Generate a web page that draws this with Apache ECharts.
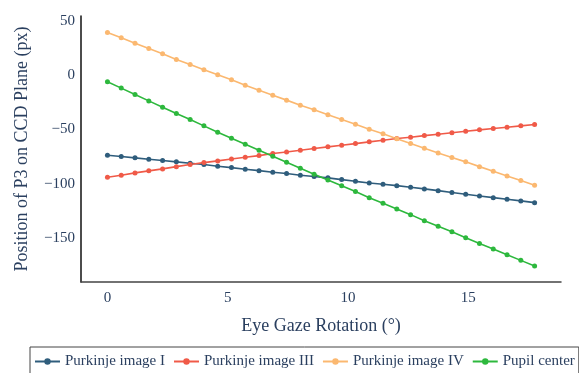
<!DOCTYPE html>
<html>
<head>
<meta charset="utf-8">
<script src="https://cdn.jsdelivr.net/npm/echarts@6/dist/echarts.min.js"></script>
<style>
  html, body { margin: 0; padding: 0; background: #fff; }
  #chart { width: 579px; height: 373px; }
</style>
</head>
<body>
<div id="chart"></div>
<script>
// gaze angle in degrees (0.01 rad steps)
const angles = [0, 0.573, 1.146, 1.719, 2.292, 2.865, 3.438, 4.011, 4.584, 5.157, 5.730,
  6.303, 6.875, 7.448, 8.021, 8.594, 9.167, 9.740, 10.313, 10.886, 11.459, 12.032,
  12.605, 13.178, 13.751, 14.324, 14.897, 15.470, 16.043, 16.616, 17.189, 17.762];

const purkinjeI = [-73.8, -75.0, -76.2, -77.5, -78.7, -79.9, -81.2, -82.4, -84.0, -85.2,
  -86.7, -88.0, -89.5, -90.7, -92.3, -93.5, -94.7, -96.3, -97.9, -99.4, -100.6, -101.9,
  -103.4, -104.9, -106.5, -108.2, -109.9, -111.4, -113.0, -114.5, -116.0, -117.6];

const purkinjeIII = [-94.1, -92.3, -90.1, -88.2, -86.4, -84.3, -82.4, -80.6, -79.0, -77.2,
  -75.6, -74.1, -72.2, -70.7, -69.1, -67.6, -66.0, -64.5, -63.0, -61.4, -59.9, -58.3,
  -57.1, -55.6, -54.3, -53.0, -51.6, -50.3, -49.1, -47.9, -46.6, -45.4];

const purkinjeIV = [39.8, 34.9, 29.9, 25.0, 20.1, 14.8, 10.2, 5.3, 0.6, -4.0,
  -9.0, -13.6, -18.2, -22.8, -27.5, -31.8, -36.4, -40.7, -45.1, -49.7, -54.0, -58.6,
  -63.0, -67.3, -71.6, -75.8, -79.9, -84.3, -88.6, -92.9, -97.2, -101.6];

const pupilCenter = [-5.9, -11.7, -17.6, -23.5, -29.3, -35.2, -40.7, -46.6, -52.5, -58.0,
  -63.6, -69.2, -74.7, -80.2, -85.8, -91.4, -96.6, -101.9, -107.4, -113.0, -118.2, -123.5,
  -128.7, -134.3, -139.5, -144.6, -150.0, -155.3, -160.5, -165.7, -171.0, -176.2];

const xTicks = [0, 5, 10, 15];
const yTicks = [-150, -100, -50, 0, 50];

const seriesNames = ['Purkinje image I', 'Purkinje image III', 'Purkinje image IV', 'Pupil center'];
const seriesValues = [purkinjeI, purkinjeIII, purkinjeIV, pupilCenter];
const colors = ['#2f5d7c', '#f05a48', '#fbb870', '#2db83d'];

const font = '"Liberation Serif", "DejaVu Serif", serif';
const textColor = '#2a3f5f';

const chart = echarts.init(document.getElementById('chart'));

const option = {
  animation: false,
  textStyle: { fontFamily: font },
  grid: { left: 81, right: 18, top: 16, bottom: 91 },
  legend: {
    data: seriesNames,
    left: 30,
    top: 347,
    padding: [7, 4, 6, 4],
    itemGap: 8,
    itemWidth: 25,
    itemHeight: 8,
    borderColor: '#444',
    borderWidth: 1,
    textStyle: { fontFamily: font, fontSize: 15, color: textColor },
  },
  xAxis: {
    type: 'value',
    min: -1.1,
    max: 18.86,
    name: 'Eye Gaze Rotation (°)',
    nameLocation: 'middle',
    nameGap: 35,
    nameTextStyle: { fontFamily: font, fontSize: 18, color: textColor },
    axisLine: { show: true, onZero: false, lineStyle: { color: '#444', width: 1.5 } },
    axisTick: { show: false },
    splitLine: { show: false },
    axisLabel: {
      customValues: xTicks,
      margin: 9,
      fontFamily: font,
      fontSize: 15,
      color: textColor,
    },
  },
  yAxis: {
    type: 'value',
    min: -191,
    max: 55,
    name: 'Position of P3 on CCD Plane (px)',
    nameLocation: 'middle',
    nameGap: 50,
    nameTextStyle: { fontFamily: font, fontSize: 18, color: textColor },
    axisLine: { show: true, onZero: false, lineStyle: { color: '#111', width: 1.5 } },
    axisTick: { show: false },
    splitLine: { show: false },
    axisLabel: {
      customValues: yTicks,
      margin: 6,
      fontFamily: font,
      fontSize: 15,
      color: textColor,
      formatter: function (value) {
        return String(value).replace('-', '\u2212');
      },
    },
  },
  series: seriesNames.map(function (name, k) {
    return {
      name: name,
      type: 'line',
      data: angles.map(function (a, i) { return [a, seriesValues[k][i]]; }),
      color: colors[k],
      lineStyle: { color: colors[k], width: 1.6 },
      symbol: 'circle',
      symbolSize: 5,
      showSymbol: true,
      itemStyle: { color: colors[k] },
    };
  }),
};

chart.setOption(option);
</script>
</body>
</html>
